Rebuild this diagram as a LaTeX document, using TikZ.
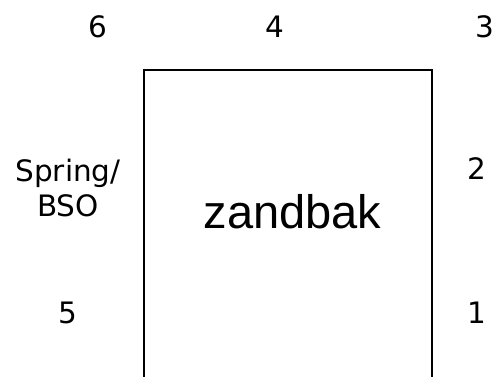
\documentclass[tikz,border=0pt]{standalone}
\usepackage{fontspec}
\setmainfont{DejaVu Sans}
\newfontfamily\arialfont{Liberation Sans}
\begin{document}
\begin{tikzpicture}[x=1pt,y=-1pt,
  lbl/.style={inner sep=0pt,anchor=base,font=\fontsize{29.5}{34.3}\selectfont},
  box/.style={draw=black,line width=1.6pt}]
\useasboundingbox (0,0) rectangle (497,376);
\clip (0,0) rectangle (497,376);
\coordinate (bl) at (143.7,380);
\coordinate (tl) at (143.7,70);
\coordinate (tr) at (432,70);
\coordinate (br) at (432,380);
\draw[box] (bl) -- (tl) -- (tr) -- (br);
\node[lbl] (n6) at (98,37) {6};
\node[lbl] (n4) at (275,37) {4};
\node[lbl] (n3) at (485,37) {3};
\node[lbl] (n2) at (477,179) {2};
\node[lbl] (n1) at (477,323) {1};
\node[lbl] (n5) at (68,323) {5};
\node[lbl,align=center] (spring) at (68,216) {Spring/\\BSO};
\node[inner sep=0pt,anchor=base,font=\arialfont\fontsize{47}{50}\selectfont] (zand) at (292.5,228) {zandbak};
\end{tikzpicture}
\end{document}
